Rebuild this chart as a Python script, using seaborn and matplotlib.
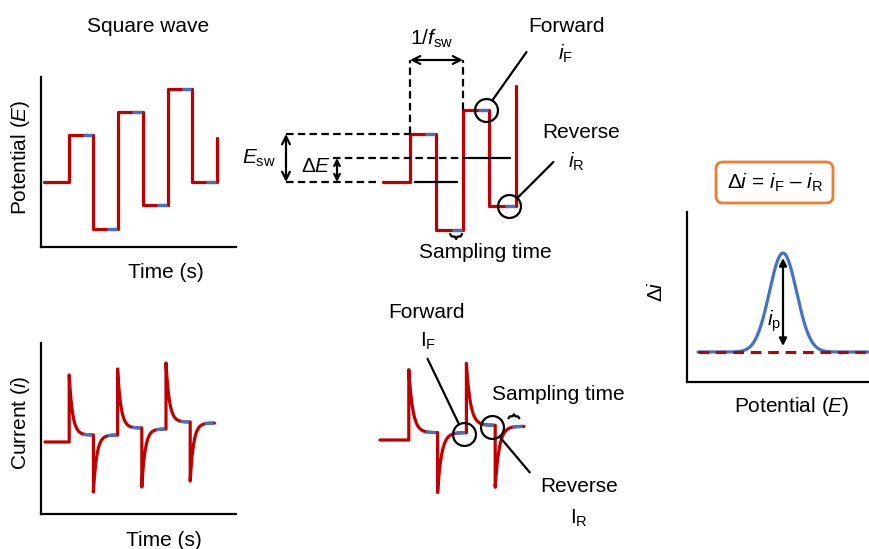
import numpy as np
import pandas as pd
import matplotlib
matplotlib.use('Agg')
import matplotlib.pyplot as plt
import seaborn as sns
from matplotlib.patches import FancyBboxPatch

sns.set_style('white')
plt.rcParams['font.family'] = ['Liberation Sans', 'DejaVu Sans']
plt.rcParams['mathtext.fontset'] = 'custom'
plt.rcParams['mathtext.rm'] = 'Liberation Sans'
plt.rcParams['mathtext.it'] = 'Liberation Sans:italic'
plt.rcParams['mathtext.bf'] = 'Liberation Sans:bold'

RED = '#C00000'
BLUE = '#4472C4'
ORANGE = '#ED7D31'

# ---------------- data ----------------
# square-wave potential level of each half period (staircase + pulse)
sw_levels = [0, 2, -2, 3, -1, 4, 0]
sw_end_A = 1.9          # last (cut) step in the overview
sw_end_B = 4            # last step in the detail
stair_mid = [0, 1]      # staircase mid levels of the two periods in the detail
# current response: peak and steady value in each half period
cur_peak = [0, 6.7, -5.0, 7.3, -4.5, 7.9, -3.9]
cur_plateau = [0, 0.7, 0.7, 1.4, 1.3, 2.0, 1.9]
# differential voltammogram
peak_pos = 8.5
peak_height = 9.9
peak_sigma = 1.36
pot_range = [0, 17.5]

W, H = 870, 549
fig = plt.figure(figsize=(8.7, 5.49), dpi=100)

ov = fig.add_axes([0, 0, 1, 1], zorder=0)
ov.set_xlim(0, W)
ov.set_ylim(H, 0)
ov.axis('off')


def panel(box, x0, sx, y0, sy):
    bx0, by0, bx1, by1 = box
    ax = fig.add_axes([bx0 / W, 1 - by1 / H, (bx1 - bx0) / W, (by1 - by0) / H], zorder=1)
    ax.set_xlim((bx0 - x0) / sx, (bx1 - x0) / sx)
    ax.set_ylim((y0 - by1) / sy, (y0 - by0) / sy)
    ax.patch.set_alpha(0)
    return ax


def finish(ax, spines=False):
    ax.set_xticks([])
    ax.set_yticks([])
    ax.set_xlabel('')
    ax.set_ylabel('')
    for s in ax.spines.values():
        s.set_visible(False)
    if spines:
        for s in ('left', 'bottom'):
            ax.spines[s].set_visible(True)
            ax.spines[s].set_color('black')
            ax.spines[s].set_linewidth(1.6)


def square_df(levels, end_level):
    t, e = [], []
    for k, lv in enumerate(levels):
        t += [k, k + 1]
        e += [lv, lv]
    t.append(len(levels))
    e.append(end_level)
    return pd.DataFrame({'t': t, 'v': e})


def square_sample_df(levels, frac=0.43):
    rows = []
    for k in range(1, len(levels)):
        rows += [(k, k + 1 - frac, levels[k]), (k, k + 1 - 0.04, levels[k])]
    return pd.DataFrame(rows, columns=['seg', 't', 'v'])


def cur_value(k, s, tau=0.14):
    if k == 0:
        return np.full_like(s, cur_plateau[0], dtype=float)
    return cur_plateau[k] + (cur_peak[k] - cur_plateau[k]) * np.exp(-s / tau)


def current_df(nseg, n=120):
    t, v = [], []
    for k in range(nseg):
        s = np.linspace(0, 1, n)
        t += list(k + s)
        v += list(cur_value(k, s))
    return pd.DataFrame({'t': t, 'v': v})


def current_sample_df(nseg, a=0.6, b=0.95):
    rows = []
    for k in range(1, nseg):
        s = np.linspace(a, b, 10)
        for ss, vv in zip(s, cur_value(k, s)):
            rows.append((k, k + ss, vv))
    return pd.DataFrame(rows, columns=['seg', 't', 'v'])


def brace(ax, tc, v, sx, sy, width=12, depth=5, down=True):
    # small curly brace centred at (tc, v); drawn in pixel steps converted to data
    sgn = -1 if down else 1
    px = np.array([-width / 2, -width / 2 + 1.5, -1.5, 0, 1.5, width / 2 - 1.5, width / 2])
    py = np.array([0, depth / 2, depth / 2, depth, depth / 2, depth / 2, 0]) * sgn
    ax.plot(tc + px / sx, v + py / sy, color='black', lw=1.6, solid_joinstyle='round',
            solid_capstyle='round', clip_on=False)


LW = 2.3
dash = (0, (3.4, 1.9))
AP = dict(lw=1.6, shrinkA=0, shrinkB=0, color='black')

# ---------- Panel A: square wave overview ----------
axA = panel((40.7, 77, 236, 247), 44, 24.7, 182, 23.3)
sns.lineplot(data=square_df(sw_levels, sw_end_A), x='t', y='v', sort=False, estimator=None,
             color=RED, lw=LW, ax=axA)
sns.lineplot(data=square_sample_df(sw_levels), x='t', y='v', units='seg', sort=False,
             estimator=None, color=BLUE, lw=LW, solid_capstyle='butt', ax=axA)
finish(axA, spines=True)

# ---------- Panel B: square wave detail ----------
x0B, sxB, y0B, syB = 383.5, 26.5, 182, 24
axB = panel((240, 20, 545, 270), x0B, sxB, y0B, syB)
lvB = sw_levels[:5]
sns.lineplot(data=square_df(lvB, sw_end_B), x='t', y='v', sort=False, estimator=None,
             color=RED, lw=LW, ax=axB)
sns.lineplot(data=square_sample_df(lvB), x='t', y='v', units='seg', sort=False,
             estimator=None, color=BLUE, lw=LW, solid_capstyle='butt', ax=axB)
finish(axB)
topE = (y0B - 60) / syB
xEsw = (286 - x0B) / sxB
xdE = (337 - x0B) / sxB
kw = dict(color='black', lw=1.6, linestyle=dash, clip_on=False)
axB.plot([1, 1], [lvB[1], topE], **kw)
axB.plot([3, 3], [lvB[3], topE], **kw)
axB.plot([xEsw, 1], [lvB[1], lvB[1]], **kw)
axB.plot([xEsw, -0.2], [lvB[0], lvB[0]], **kw)
axB.plot([xdE - 0.15, 3.15], [stair_mid[1], stair_mid[1]], **kw)
for p, m in enumerate(stair_mid):
    axB.plot([1 + 2 * p + 0.19, 3 + 2 * p - 0.22], [m, m], color='black', lw=1.6)
axB.annotate('', xy=(3, topE), xytext=(1, topE),
             arrowprops=dict(arrowstyle='<->', mutation_scale=14, **AP))
axB.annotate('', xy=(xEsw, lvB[1]), xytext=(xEsw, lvB[0]),
             arrowprops=dict(arrowstyle='<->', mutation_scale=14, **AP))
axB.annotate('', xy=(xdE, stair_mid[1]), xytext=(xdE, stair_mid[0]),
             arrowprops=dict(arrowstyle='<->', mutation_scale=10, **AP))
# circles + leaders
cF = (3.85, lvB[3])
cR = (4.75, lvB[4])
for (cx, cy), off in ((cF, (41, 58)), (cR, (44, 44))):
    axB.plot([cx], [cy], marker='o', ms=16.5, mfc='none', mec='black', mew=1.6, clip_on=False)
    axB.annotate('', xy=(cx, cy), xytext=off, textcoords='offset pixels',
                 arrowprops=dict(arrowstyle='-', lw=1.6, shrinkA=0, shrinkB=8.6, color='black'))
brace(axB, 2.74, lvB[2] - 4 / syB, sxB, syB, down=True)

# ---------- Panel C: current overview ----------
axC = panel((40.7, 343, 236, 514), 45, 24.2, 442, 10)
sns.lineplot(data=current_df(7), x='t', y='v', sort=False, estimator=None,
             color=RED, lw=LW, ax=axC)
sns.lineplot(data=current_sample_df(7), x='t', y='v', units='seg', sort=False,
             estimator=None, color=BLUE, lw=LW, solid_capstyle='butt', ax=axC)
finish(axC, spines=True)

# ---------- Panel D: current detail ----------
x0D, sxD, y0D, syD = 380, 28.8, 440, 10.5
axD = panel((360, 300, 560, 520), x0D, sxD, y0D, syD)
sns.lineplot(data=current_df(5), x='t', y='v', sort=False, estimator=None,
             color=RED, lw=LW, ax=axD)
sns.lineplot(data=current_sample_df(5), x='t', y='v', units='seg', sort=False,
             estimator=None, color=BLUE, lw=LW, solid_capstyle='butt', ax=axD)
finish(axD)
dF = (2.9, cur_plateau[2] - 0.1)
dR = (3.88, cur_plateau[3] - 0.2)
for (cx, cy), off in ((dF, (-36, 75)), (dR, (38, -45))):
    axD.plot([cx], [cy], marker='o', ms=16.5, mfc='none', mec='black', mew=1.6, clip_on=False)
    axD.annotate('', xy=(cx, cy), xytext=off, textcoords='offset pixels',
                 arrowprops=dict(arrowstyle='-', lw=1.6, shrinkA=0, shrinkB=8.6, color='black'))
brace(axD, 4.65, cur_plateau[4] + 8 / syD, sxD, syD, width=11, depth=4, down=False)

# ---------- Panel E: differential current ----------
axE = panel((686.7, 212, 872, 382), 698, 10, 352, 10)
E = np.linspace(pot_range[0], pot_range[1], 400)
di = peak_height * np.exp(-0.5 * ((E - peak_pos) / peak_sigma) ** 2)
sns.lineplot(x=E, y=di, color=BLUE, lw=LW, ax=axE)
sns.lineplot(x=pot_range, y=[0, 0], color=RED, lw=2.2, linestyle=(0, (3.5, 2.2)), ax=axE)
finish(axE, spines=True)
axE.annotate('', xy=(peak_pos, peak_height - 0.5), xytext=(peak_pos, 0.6),
             arrowprops=dict(arrowstyle='<|-|>', mutation_scale=11, fc='black', **AP))

# ---------- texts ----------
FS = 15


def T(x, y, s, rot=0, fs=FS):
    ov.text(x, y, s, ha='center', va='center', rotation=rot, fontsize=fs, color='black')


T(148, 27, 'Square wave')
T(166, 273, 'Time (s)')
T(21, 157, 'Potential ($E$)', 90)
T(21, 423, 'Current ($i$)', 90)
T(164, 540, 'Time (s)')
T(432, 39, '1/$f_\\mathrm{sw}$')
T(259, 158, '$E_\\mathrm{sw}$')
T(316, 167, 'Δ$E$')
T(567, 27, 'Forward')
T(566, 54, '$i_\\mathrm{F}$')
T(581, 133, 'Reverse')
T(576, 162, '$i_\\mathrm{R}$')
T(485, 253, 'Sampling time')
T(427, 312, 'Forward')
T(428, 341, 'I$_\\mathrm{F}$')
T(558, 394, 'Sampling time')
T(579, 486, 'Reverse')
T(579, 518, 'I$_\\mathrm{R}$')
T(775, 183, 'Δ$i$ = $i_\\mathrm{F}$ – $i_\\mathrm{R}$')
T(657, 291, 'Δ$i$', 90)
T(792, 407, 'Potential ($E$)')
T(774, 321, '$i_\\mathrm{p}$')
ov.add_patch(FancyBboxPatch((716, 162), 117, 41, boxstyle='round,pad=0,rounding_size=7',
                            fc='none', ec=ORANGE, lw=2))

fig.savefig('out.png', dpi=100)
